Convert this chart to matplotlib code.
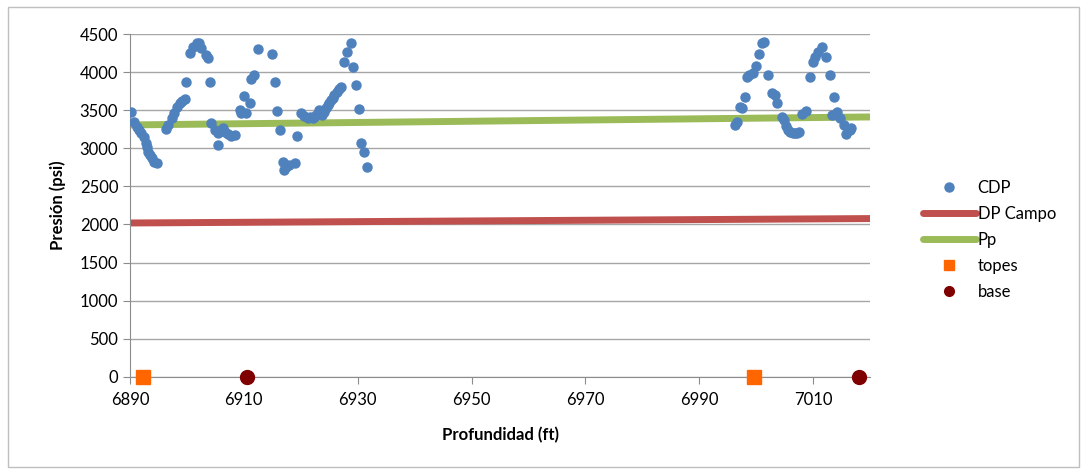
import matplotlib
matplotlib.use("Agg")
import matplotlib.pyplot as plt
from matplotlib.lines import Line2D
from matplotlib.patches import Rectangle

plt.rcParams["font.family"] = ["Lato", "DejaVu Sans"]

# CDP: profundidad (ft) y presión (psi)
cdp_depth = [
    6890.2, 6890.75, 6891.2, 6891.6, 6892.0, 6892.5, 6892.75, 6892.9, 6893.2, 6893.5,
    6893.8, 6894.25, 6894.7, 6896.4, 6896.7, 6897.3, 6897.75, 6898.2, 6898.75, 6899.15,
    6899.6, 6899.9, 6900.5, 6901.1, 6901.7, 6902.1, 6902.5, 6903.4, 6903.7, 6904.0,
    6904.3, 6904.9, 6905.45, 6905.45, 6906.3, 6906.6, 6907.2, 6907.8, 6908.4, 6909.25,
    6909.5, 6910.0, 6910.4, 6911.0, 6911.3, 6911.75, 6912.45, 6915.0, 6915.4, 6915.85,
    6916.4, 6916.8, 6917.1, 6917.4, 6918.0, 6918.9, 6919.3, 6920.0, 6920.6, 6921.2,
    6921.6, 6922.1, 6922.4, 6922.7, 6923.25, 6923.8, 6924.1, 6924.4, 6924.7, 6925.0,
    6925.3, 6925.6, 6925.9, 6926.45, 6926.8, 6927.15, 6927.6, 6928.1, 6928.8, 6929.25,
    6929.7, 6930.25, 6930.65, 6931.1, 6931.7,
    6996.3, 6996.7, 6997.1, 6997.5, 6998.1, 6998.3, 6998.8, 6999.4, 6999.9, 7000.5,
    7001.1, 7001.4, 7002.0, 7002.7, 7003.3, 7003.7, 7004.5, 7004.9, 7005.3, 7005.65,
    7006.0, 7006.5, 7006.9, 7007.2, 7007.5, 7008.1, 7008.7, 7009.4, 7010.0, 7010.4,
    7010.9, 7011.6, 7012.2, 7012.9, 7013.25, 7013.65, 7014.25, 7014.8, 7015.4, 7015.7,
    7016.4, 7016.6,
]
cdp_pres = [
    3480, 3353, 3287, 3244, 3200, 3156, 3069, 3024, 2958, 2915,
    2871, 2827, 2806, 3253, 3310, 3398, 3472, 3551, 3603, 3630,
    3648, 3880, 4253, 4340, 4385, 4393, 4319, 4231, 4188, 3880,
    3332, 3244, 3200, 3047, 3266, 3222, 3191, 3165, 3178, 3507,
    3472, 3691, 3472, 3595, 3911, 3968, 4306, 4244, 3880, 3498,
    3244, 2827, 2718, 2761, 2783, 2806, 3165, 3464, 3428, 3398,
    3410, 3398, 3420, 3441, 3507, 3441, 3485, 3530, 3573, 3600,
    3638, 3670, 3704, 3748, 3780, 3814, 4143, 4274, 4393, 4069,
    3836, 3516, 3069, 2958, 2761,
    3310, 3353, 3543, 3534, 3674, 3945, 3968, 3998, 4086, 4244,
    4385, 4406, 3968, 3727, 3704, 3595, 3419, 3376, 3300, 3244,
    3220, 3200, 3210, 3200, 3215, 3455, 3498, 3945, 4143, 4209,
    4274, 4340, 4209, 3968, 3441, 3682, 3485, 3398, 3310, 3191,
    3244, 3266,
]

# líneas de referencia
dp_campo_depth = [6890, 7020]
dp_campo_pres = [2020, 2078]
pp_depth = [6890, 7020]
pp_pres = [3310, 3415]

# topes y base
topes_depth = [6892.2, 6999.6]
topes_pres = [0, 0]
base_depth = [6910.6, 7018.0]
base_pres = [0, 0]

fig = plt.figure(figsize=(10.87, 4.71), dpi=100)
ax = fig.add_axes([0.1196, 0.2006, 0.6808, 0.7262])

ax.plot(dp_campo_depth, dp_campo_pres, color="#C0504D", lw=5, solid_capstyle="round", zorder=2)
ax.plot(pp_depth, pp_pres, color="#9BBB59", lw=5, solid_capstyle="round", zorder=2)
ax.plot(cdp_depth, cdp_pres, "o", color="#4F81BD", ms=6.5, mec="#4F81BD", zorder=3)
ax.plot(topes_depth, topes_pres, "s", color="#FF6600", ms=10, zorder=4, clip_on=False)
ax.plot(base_depth, base_pres, "o", color="#7F0000", ms=10, zorder=4, clip_on=False)

ax.set_xlim(6890, 7020)
ax.set_ylim(0, 4500)
ax.set_xticks(range(6890, 7020, 20))
ax.set_yticks(range(0, 4501, 500))
ax.grid(axis="y", color="#A6A6A6", lw=1)
ax.set_axisbelow(True)
for s in ["top", "right"]:
    ax.spines[s].set_visible(False)
for s in ["left", "bottom"]:
    ax.spines[s].set_color("#8C8C8C")
ax.tick_params(axis="both", colors="#8C8C8C", labelcolor="black", labelsize=12, length=5)
ax.tick_params(axis="x", pad=6)

ax.set_xlabel("Profundidad (ft)", fontsize=12, fontweight="bold", labelpad=14)
ax.set_ylabel("Presión (psi)", fontsize=12, fontweight="bold", labelpad=10)

handles = [
    Line2D([], [], ls="", marker="o", color="#4F81BD", ms=6.5),
    Line2D([], [], color="#C0504D", lw=5, solid_capstyle="round"),
    Line2D([], [], color="#9BBB59", lw=5, solid_capstyle="round"),
    Line2D([], [], ls="", marker="s", color="#FF6600", ms=7),
    Line2D([], [], ls="", marker="o", color="#7F0000", ms=7),
]
labels = ["CDP", "DP Campo", "Pp", "topes", "base"]
fig.legend(handles, labels, loc="center left", bbox_to_anchor=(0.835, 0.49),
           frameon=False, fontsize=12, handlelength=3.2, handletextpad=0.1,
           labelspacing=0.6)

fig.patches.append(Rectangle((0.007, 0.008), 0.986, 0.977, transform=fig.transFigure,
                             fill=False, edgecolor="#BFBFBF", lw=1))

fig.savefig("out.png", dpi=100)
